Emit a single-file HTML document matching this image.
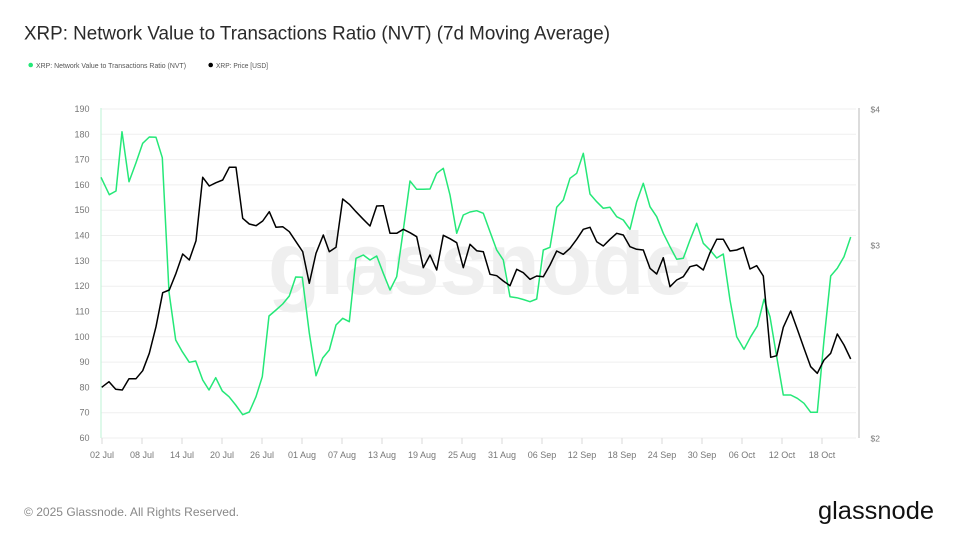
<!DOCTYPE html>
<html>
<head>
<meta charset="utf-8">
<style>
  html,body{margin:0;padding:0;background:#fff;}
  svg{display:block;}
  text{font-family:"Liberation Sans",Arial,sans-serif;}
</style>
</head>
<body>
<svg width="960" height="540" viewBox="0 0 960 540" xmlns="http://www.w3.org/2000/svg">
  <rect width="960" height="540" fill="#fff"/>
  <!-- Title -->
  <text x="24" y="39.5" font-size="19.5" fill="#2a2a2a" textLength="586" lengthAdjust="spacingAndGlyphs">XRP: Network Value to Transactions Ratio (NVT) (7d Moving Average)</text>
  <!-- Legend -->
  <circle cx="30.7" cy="65" r="2.3" fill="#25e878"/>
  <text x="36" y="67.8" font-size="7.5" fill="#555" textLength="150" lengthAdjust="spacingAndGlyphs">XRP: Network Value to Transactions Ratio (NVT)</text>
  <circle cx="210.7" cy="65" r="2.3" fill="#000"/>
  <text x="216" y="67.8" font-size="7.5" fill="#555" textLength="52" lengthAdjust="spacingAndGlyphs">XRP: Price [USD]</text>

  <!-- Gridlines -->
  <g stroke="#efefef" stroke-width="1">
    <line x1="101" y1="109" x2="856" y2="109"/>
    <line x1="101" y1="134.3" x2="856" y2="134.3"/>
    <line x1="101" y1="159.6" x2="856" y2="159.6"/>
    <line x1="101" y1="184.9" x2="856" y2="184.9"/>
    <line x1="101" y1="210.2" x2="856" y2="210.2"/>
    <line x1="101" y1="235.5" x2="856" y2="235.5"/>
    <line x1="101" y1="260.8" x2="856" y2="260.8"/>
    <line x1="101" y1="286.2" x2="856" y2="286.2"/>
    <line x1="101" y1="311.5" x2="856" y2="311.5"/>
    <line x1="101" y1="336.8" x2="856" y2="336.8"/>
    <line x1="101" y1="362.1" x2="856" y2="362.1"/>
    <line x1="101" y1="387.4" x2="856" y2="387.4"/>
    <line x1="101" y1="412.7" x2="856" y2="412.7"/>
    <line x1="101" y1="438" x2="856" y2="438"/>
  </g>

  <!-- Watermark -->
  <text x="268" y="294" font-size="88" font-weight="bold" fill="#efefef" textLength="424" lengthAdjust="spacingAndGlyphs">glassnode</text>

  <!-- Axis lines -->
  <line x1="101" y1="108" x2="101" y2="438" stroke="#c8f5dc" stroke-width="1.2"/>
  <line x1="859" y1="108" x2="859" y2="438" stroke="#d0d0d0" stroke-width="1.5"/>

  <!-- Left axis labels -->
  <g font-size="9" fill="#777" text-anchor="end">
    <text x="89.5" y="112">190</text>
    <text x="89.5" y="137.3">180</text>
    <text x="89.5" y="162.6">170</text>
    <text x="89.5" y="187.9">160</text>
    <text x="89.5" y="213.2">150</text>
    <text x="89.5" y="238.5">140</text>
    <text x="89.5" y="263.8">130</text>
    <text x="89.5" y="289.2">120</text>
    <text x="89.5" y="314.5">110</text>
    <text x="89.5" y="339.8">100</text>
    <text x="89.5" y="365.1">90</text>
    <text x="89.5" y="390.4">80</text>
    <text x="89.5" y="415.7">70</text>
    <text x="89.5" y="441">60</text>
  </g>

  <!-- Right axis labels -->
  <g font-size="8.5" fill="#777">
    <text x="870.5" y="112.5">$4</text>
    <text x="870.5" y="248.5">$3</text>
    <text x="870.5" y="441.5">$2</text>
  </g>

  <!-- X ticks -->
  <g stroke="#d8d8d8" stroke-width="1">
    <line x1="102" y1="438" x2="102" y2="444"/>
    <line x1="142" y1="438" x2="142" y2="444"/>
    <line x1="182" y1="438" x2="182" y2="444"/>
    <line x1="222" y1="438" x2="222" y2="444"/>
    <line x1="262" y1="438" x2="262" y2="444"/>
    <line x1="302" y1="438" x2="302" y2="444"/>
    <line x1="342" y1="438" x2="342" y2="444"/>
    <line x1="382" y1="438" x2="382" y2="444"/>
    <line x1="422" y1="438" x2="422" y2="444"/>
    <line x1="462" y1="438" x2="462" y2="444"/>
    <line x1="502" y1="438" x2="502" y2="444"/>
    <line x1="542" y1="438" x2="542" y2="444"/>
    <line x1="582" y1="438" x2="582" y2="444"/>
    <line x1="622" y1="438" x2="622" y2="444"/>
    <line x1="662" y1="438" x2="662" y2="444"/>
    <line x1="702" y1="438" x2="702" y2="444"/>
    <line x1="742" y1="438" x2="742" y2="444"/>
    <line x1="782" y1="438" x2="782" y2="444"/>
    <line x1="822" y1="438" x2="822" y2="444"/>
  </g>
  <g font-size="9" fill="#777" text-anchor="middle">
    <text x="102" y="458">02 Jul</text>
    <text x="142" y="458">08 Jul</text>
    <text x="182" y="458">14 Jul</text>
    <text x="222" y="458">20 Jul</text>
    <text x="262" y="458">26 Jul</text>
    <text x="302" y="458">01 Aug</text>
    <text x="342" y="458">07 Aug</text>
    <text x="382" y="458">13 Aug</text>
    <text x="422" y="458">19 Aug</text>
    <text x="462" y="458">25 Aug</text>
    <text x="502" y="458">31 Aug</text>
    <text x="542" y="458">06 Sep</text>
    <text x="582" y="458">12 Sep</text>
    <text x="622" y="458">18 Sep</text>
    <text x="662" y="458">24 Sep</text>
    <text x="702" y="458">30 Sep</text>
    <text x="742" y="458">06 Oct</text>
    <text x="782" y="458">12 Oct</text>
    <text x="822" y="458">18 Oct</text>
  </g>

  <!-- NVT series (green) -->
  <polyline fill="none" stroke="#25e878" stroke-width="1.5" stroke-linejoin="round" points="
101,177.3 109.3,194.7 116,191 122,131.7 129,181.7 136,162.7 142.7,143.3 149.3,137 156,137.3 162.3,157.7
169,292 175.7,340 182.3,351.7 189.3,362.3 195.7,361 202.7,380 209,390 215.7,377.7 222.3,391 229,396.7
235.7,405 242.7,414.7 249.3,412 256,396.7 262.3,376.7 269,316 276,310 282.7,304 289.3,296 295.7,277
302.3,277.3 309.3,333 316,375.7 322.7,358 329.3,350 336,325 342.7,318.3 349.3,321.7 356,258.3 363.3,255
370,260 376.7,256 383.3,273.3 390,290 396.7,276.7 403.3,230 410,181 416.7,189.3 423.3,189.3 430,189
436.7,173.3 443.3,168.3 450,195 456.7,233.3 463.3,215 470,212 476.7,210.7 483.3,213.3 490,231.7 496.7,250
503.3,260 510,296.7 516.7,297.7 523.3,299.5 530,301.7 536.7,299 543.3,250 550,247.3 556.7,207.3 563.3,200
570,178.3 576.7,173.3 583.3,153.3 590,194 596.7,201.7 603.3,208.3 610,207.3 616.7,216.7 623.3,220 630,229.3
636.7,201.7 643.3,183.3 650,206.7 656.7,216.7 663.3,233.3 670,246.7 676.7,259.3 683.3,258.3 690,240 696.7,223.3
703.3,243.3 710,250 716.7,258 723.3,254 730,300 736.7,336.7 744,349.3 750.7,336.7 757.3,326 764,299.3
770,316.7 776.7,356.7 783.3,395 790.7,395 797.3,398.3 804,403.3 810.7,412.3 817.3,412.3 824,340 830.7,276
837.3,268.3 844,256.7 850.7,237"/>

  <!-- Price series (black) -->
  <polyline fill="none" stroke="#000" stroke-width="1.5" stroke-linejoin="round" points="
101.7,387.3 109,381.7 115.7,389.3 122.3,390 129,378.7 136,378.7 142.7,370.7 149.3,353.3 156,326.7 162.7,292.7
169.3,290 176,273.3 182.7,254 189.3,260 196,240.7 202.7,177.3 209.3,186 216,182.7 222.7,180 229.3,167.3
236,167.3 242.7,218.3 249.3,224 256,225.7 262.7,221 269.3,211.7 276,227.3 282.7,226.7 289.3,231.7 296,241.7
302.7,251.7 309.3,283.3 316,253.3 323.3,235 329.3,251.7 336,247.3 342.7,199 349.3,204.3 356,211.7 363.3,219.3
370,226 376.7,206 383.3,205.7 390,233.3 396.7,233.3 403.3,229.3 410,232.7 416.7,236.7 423.3,267.7 430,255
436.7,270 443.3,235.3 450,238.7 456.7,242.7 463.3,267.7 470,244.3 476.7,250.7 483.3,251.7 490,274.3 496.7,275.7
503.3,281 510,285.7 516.7,269.3 523.3,272.7 530,279.3 536.7,276 543.3,276.7 550,265 556.7,251 563.3,254.3
570,248.3 576.7,239.3 583.3,229.3 590,227.3 596.7,241.7 603.3,246 610,239.3 616.7,233.3 623.3,235 630,246.7
636.7,249.3 643.3,250 650,268.3 656.7,274 663.3,257.7 670,286.7 676.7,280 683.3,276.7 690,266.7 696.7,265
703.3,270 710,252.7 716.7,239.3 723.3,239.3 730,251 736.7,250 743.3,247.3 750,269 756.7,265.7 763.3,276
770.7,357.3 776.7,355.7 783.3,327.3 790.7,311 797.3,329.3 804,348.3 810.7,366.7 817.3,373.3 824,360 830.7,353.3
837.3,334 844,345 850.7,359"/>

  <!-- Footer -->
  <text x="24" y="516" font-size="12" fill="#888" textLength="215" lengthAdjust="spacingAndGlyphs">© 2025 Glassnode. All Rights Reserved.</text>
  <text x="818" y="519" font-size="25" fill="#111" textLength="116" lengthAdjust="spacingAndGlyphs">glassnode</text>
</svg>
</body>
</html>
